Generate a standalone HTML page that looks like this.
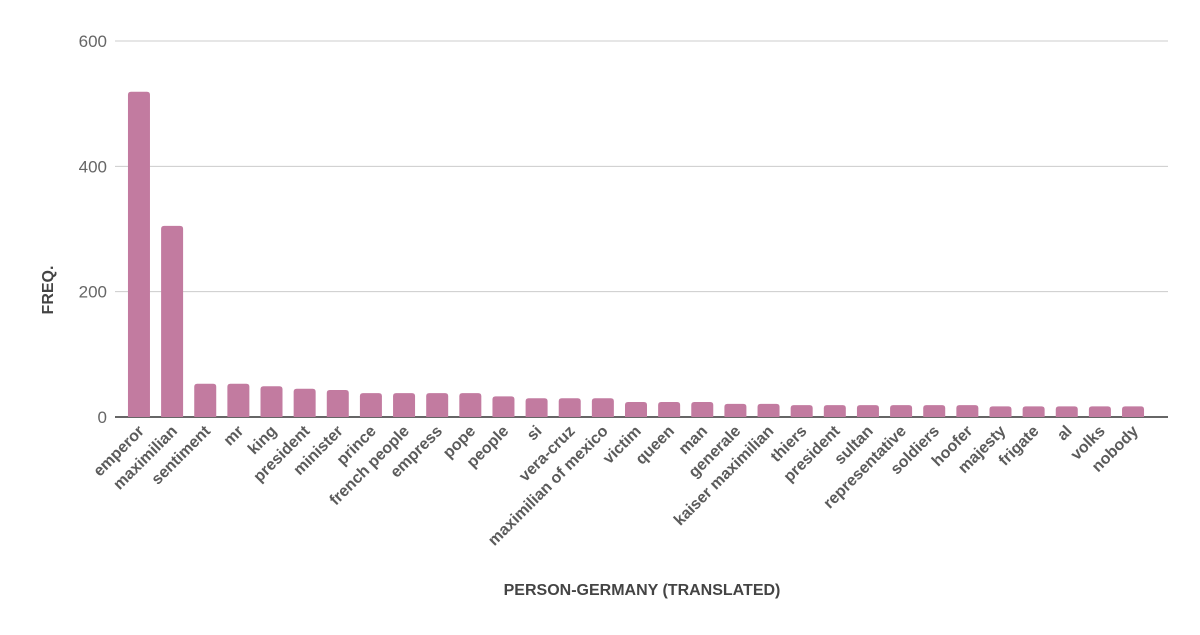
<!DOCTYPE html>
<html><head><meta charset="utf-8"><style>
body{margin:0;background:#fff;width:1200px;height:630px;overflow:hidden}
svg text{font-family:"Liberation Sans",Arial,sans-serif}
</style></head><body>
<svg id="chart" width="1200" height="630">
<g id="grid"></g><g id="bars"></g><g id="xl"></g>
<text x="642" y="595" text-anchor="middle" font-size="16" font-weight="bold" fill="#444">PERSON-GERMANY (TRANSLATED)</text>
<text transform="translate(53,290) rotate(-90)" text-anchor="middle" font-size="16" font-weight="bold" fill="#444">FREQ.</text>
</svg>
<script>
const categories=["emperor","maximilian","sentiment","mr","king","president","minister","prince","french people","empress","pope","people","si","vera-cruz","maximilian of mexico","victim","queen","man","generale","kaiser maximilian","thiers","president","sultan","representative","soldiers","hoofer","majesty","frigate","al","volks","nobody"];
const values=[519,305,53,53,49,45,43,38,38,38,38,33,30,30,30,24,24,24,21,21,19,19,19,19,19,19,17,17,17,17,17];
const yTicks=[0,200,400,600];
const NS="http://www.w3.org/2000/svg";
const y0=417,y1=41,yMax=600,x0=122.4,x1=1149.6;
const y=v=>y0-(v/yMax)*(y0-y1);
const band=(x1-x0)/categories.length;
const xc=i=>x0+band*(i+0.5);
function mk(t,a,p){const e=document.createElementNS(NS,t);for(const k in a)e.setAttribute(k,a[k]);p.appendChild(e);return e;}
const g=document.getElementById('grid');
yTicks.forEach(t=>{
 const l=mk('line',{x1:115,x2:1168,y1:y(t),y2:y(t),stroke:t===0?'#333':'#ccc','stroke-width':t===0?1.5:1},g);
 
 
 const tx=mk('text',{x:107,y:y(t)+6,'text-anchor':'end','font-size':17,fill:'#666'},g);
 tx.textContent=t;
 
 
});
const b=document.getElementById('bars'),xl=document.getElementById('xl');
categories.forEach((c,i)=>{
 const r=mk('path',{d:`M${xc(i)-11},${y0}V${y(values[i])+3}q0,-3 3,-3h16q3,0 3,3V${y0}Z`,fill:'#c27ba0'},b);
 
 
 const t=mk('text',{transform:`translate(${xc(i)+6},${432}) rotate(-45)`,'text-anchor':'end','font-size':16,'font-weight':'bold',fill:'#5b5b5b'},xl);
 t.textContent=c;
 
 
});
</script>
</body></html>
